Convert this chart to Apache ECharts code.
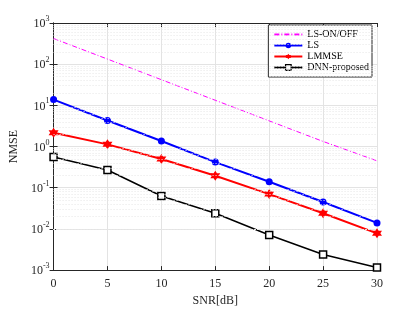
<!DOCTYPE html>
<html><head><meta charset="utf-8">
<script src="https://cdn.jsdelivr.net/npm/echarts@6/dist/echarts.min.js"></script>
<style>html,body{margin:0;padding:0;background:#fff}#c{width:415px;height:312px}</style>
</head><body><div id="c"></div>
<script>
var snr = [0, 5, 10, 15, 20, 25, 30];
var lsOnOff = [420, 133, 42, 13.3, 4.2, 1.33, 0.45];
var ls = [13.8, 4.3, 1.36, 0.42, 0.14, 0.045, 0.014];
var lmmse = [2.17, 1.13, 0.50, 0.195, 0.07, 0.024, 0.0078];
var dnn = [0.556, 0.27, 0.063, 0.024, 0.0071, 0.0024, 0.00115];
var names = ['LS-ON/OFF', 'LS', 'LMMSE', 'DNN-proposed'];

var FONT = 'Liberation Serif';
var TXT = '#262626';
var hexagram = 'path://M0,-10 L2.887,-5 L8.66,-5 L5.774,0 L8.66,5 L2.887,5 L0,10 L-2.887,5 L-8.66,5 L-5.774,0 L-8.66,-5 L-2.887,-5 Z';

function pairs(v){ return snr.map(function(x,i){ return [x, v[i]]; }); }

var minorLines = [];
for (var k = -3; k <= 2; k++) {
  for (var m = 2; m <= 9; m++) minorLines.push({yAxis: m * Math.pow(10, k)});
}

var chart = echarts.init(document.getElementById('c'), null, {renderer: 'canvas'});
chart.setOption({
  animation: false,
  backgroundColor: '#fff',
  grid: {left: 53, right: 38, top: 23, bottom: 35},
  legend: {
    data: [
      {name: names[0], itemStyle: {opacity: 0}},
      {name: names[1]}, {name: names[2]},
      {name: names[3], itemStyle: {borderWidth: 1.2}}
    ],
    orient: 'vertical',
    right: 43, top: 25,
    backgroundColor: '#fff',
    borderColor: '#262626', borderWidth: 1,
    padding: [4, 3, 4, 5],
    itemGap: 0,
    itemWidth: 28, itemHeight: 7,
    textStyle: {fontFamily: FONT, fontSize: 10, color: '#000', lineHeight: 11}
  },
  xAxis: [{
    type: 'value', min: 0, max: 30, interval: 5,
    name: 'SNR[dB]', nameLocation: 'middle', nameGap: 24,
    nameTextStyle: {fontFamily: FONT, fontSize: 12, color: TXT},
    axisLine: {lineStyle: {color: TXT, width: 1}},
    axisTick: {inside: true, length: 4, lineStyle: {color: TXT}},
    axisLabel: {fontFamily: FONT, fontSize: 12, color: TXT, margin: 8},
    splitLine: {show: true, lineStyle: {color: '#e3e3e3', width: 1}}
  }, {
    type: 'value', min: 0, max: 30, interval: 5, position: 'top',
    axisLine: {show: true, lineStyle: {color: TXT, width: 1}},
    axisTick: {inside: true, length: 4, lineStyle: {color: TXT}},
    axisLabel: {show: false}, splitLine: {show: false}
  }],
  yAxis: [{
    type: 'log', logBase: 10, min: 0.001, max: 1000, interval: 1,
    name: 'NMSE', nameLocation: 'middle', nameGap: 28, nameRotate: 90,
    nameTextStyle: {fontFamily: FONT, fontSize: 12, color: TXT},
    axisLine: {show: true, lineStyle: {color: TXT, width: 1}},
    axisTick: {show: true, inside: true, length: 4, lineStyle: {color: TXT}},
    axisLabel: {
      margin: 4,
      formatter: function (v) {
        var e = Math.round(Math.log10(v));
        return '{b|10}{s|' + e + '}';
      },
      rich: {
        b: {fontFamily: FONT, fontSize: 12, color: TXT, verticalAlign: 'bottom', lineHeight: 14},
        s: {fontFamily: FONT, fontSize: 8, color: TXT, verticalAlign: 'bottom', lineHeight: 14, padding: [0, 0, 7, 0]}
      }
    },
    splitLine: {show: true, lineStyle: {color: '#e3e3e3', width: 1}}
  }, {
    type: 'log', logBase: 10, min: 0.001, max: 1000, interval: 1, position: 'right',
    axisLine: {show: true, lineStyle: {color: TXT, width: 1}},
    axisTick: {show: true, inside: true, length: 4, lineStyle: {color: TXT}},
    axisLabel: {show: false}, splitLine: {show: false}
  }],
  series: [{
    type: 'line', name: '_grid', data: [], silent: true,
    markLine: {
      silent: true, symbol: ['none', 'none'], label: {show: false},
      lineStyle: {color: '#e6e6e6', type: [1, 2], width: 1},
      data: minorLines, animation: false
    }
  }, {
    type: 'line', name: names[0], data: pairs(lsOnOff),
    showSymbol: false, symbol: 'none',
    itemStyle: {color: '#ff00ff'},
    lineStyle: {color: '#ff00ff', width: 1, type: [5, 2, 1, 2]}
  }, {
    type: 'line', name: names[1], data: pairs(ls),
    symbol: 'circle', symbolSize: 7,
    itemStyle: {color: '#0000ff'},
    lineStyle: {color: '#0000ff', width: 2}
  }, {
    type: 'line', name: names[2], data: pairs(lmmse),
    symbol: hexagram, symbolSize: 10,
    itemStyle: {color: '#ff0000'},
    lineStyle: {color: '#ff0000', width: 2}
  }, {
    type: 'line', name: names[3], data: pairs(dnn),
    symbol: 'rect', symbolSize: 7,
    itemStyle: {color: '#fff', borderColor: '#000', borderWidth: 1.5},
    lineStyle: {color: '#000', width: 1.5}
  }]
});
</script></body></html>
